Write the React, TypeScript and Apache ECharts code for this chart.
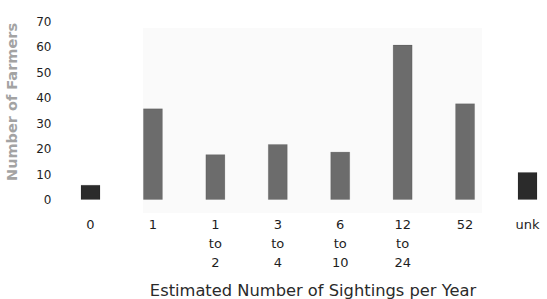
import React, { useEffect, useRef } from "react";
import * as echarts from "echarts";

const categories = ["0", "1", "1\nto\n2", "3\nto\n4", "6\nto\n10", "12\nto\n24", "52", "unk"];
const farmers = [6, 36, 18, 22, 19, 61, 38, 11];
const yTicks = [0, 10, 20, 30, 40, 50, 60, 70];
const darkCategories = ["0", "unk"];
const xTitle = "Estimated Number of Sightings per Year";
const yTitle = "Number of Farmers";

export default function App() {
  const ref = useRef<HTMLDivElement>(null);
  useEffect(() => {
    if (!ref.current) return;
    const chart = echarts.init(ref.current, null, { renderer: "svg" });
    const font = "DejaVu Sans";
    chart.setOption({
      animation: false,
      backgroundColor: "#ffffff",
      grid: { left: 90.5, right: 19.5, top: 21.7, bottom: 99, containLabel: false },
      graphic: [
        {
          type: "rect",
          z: -10,
          shape: { x: 143, y: 28, width: 339, height: 185 },
          style: { fill: "#fafafa" },
          silent: true,
        },
        {
          type: "text",
          x: 313,
          y: 290,
          style: {
            text: xTitle,
            font: `16.3px "${font}"`,
            fill: "#2a2a2a",
            align: "center",
            verticalAlign: "middle",
          },
        },
        {
          type: "text",
          x: 12,
          y: 102,
          rotation: Math.PI / 2,
          style: {
            text: yTitle,
            font: `bold 14.5px "${font}"`,
            fill: "#a3a3a3",
            align: "center",
            verticalAlign: "middle",
          },
        },
      ],
      xAxis: {
        type: "category",
        data: categories,
        boundaryGap: false,
        axisLine: { show: false },
        axisTick: { show: false },
        axisLabel: {
          interval: 0,
          margin: 14.5,
          fontFamily: font,
          fontSize: 13,
          lineHeight: 19,
          color: "#1e1e1e",
        },
      },
      yAxis: {
        type: "value",
        min: yTicks[0],
        max: yTicks[yTicks.length - 1],
        interval: 10,
        axisLine: { show: false },
        axisTick: { show: false },
        splitLine: { show: false },
        axisLabel: {
          margin: 39,
          fontFamily: font,
          fontSize: 12,
          color: "#1e1e1e",
        },
      },
      series: [
        {
          type: "bar",
          data: farmers,
          barWidth: 20,
          itemStyle: {
            color: (p: any) => (darkCategories.includes(p.name) ? "#2b2b2b" : "#6c6c6c"),
            borderColor: "rgba(0,0,0,0.12)",
            borderWidth: 1,
          },
        },
      ],
    });
    return () => chart.dispose();
  }, []);
  return <div ref={ref} style={{ width: 547, height: 299, position: "absolute", left: 0, top: 0 }} />;
}
